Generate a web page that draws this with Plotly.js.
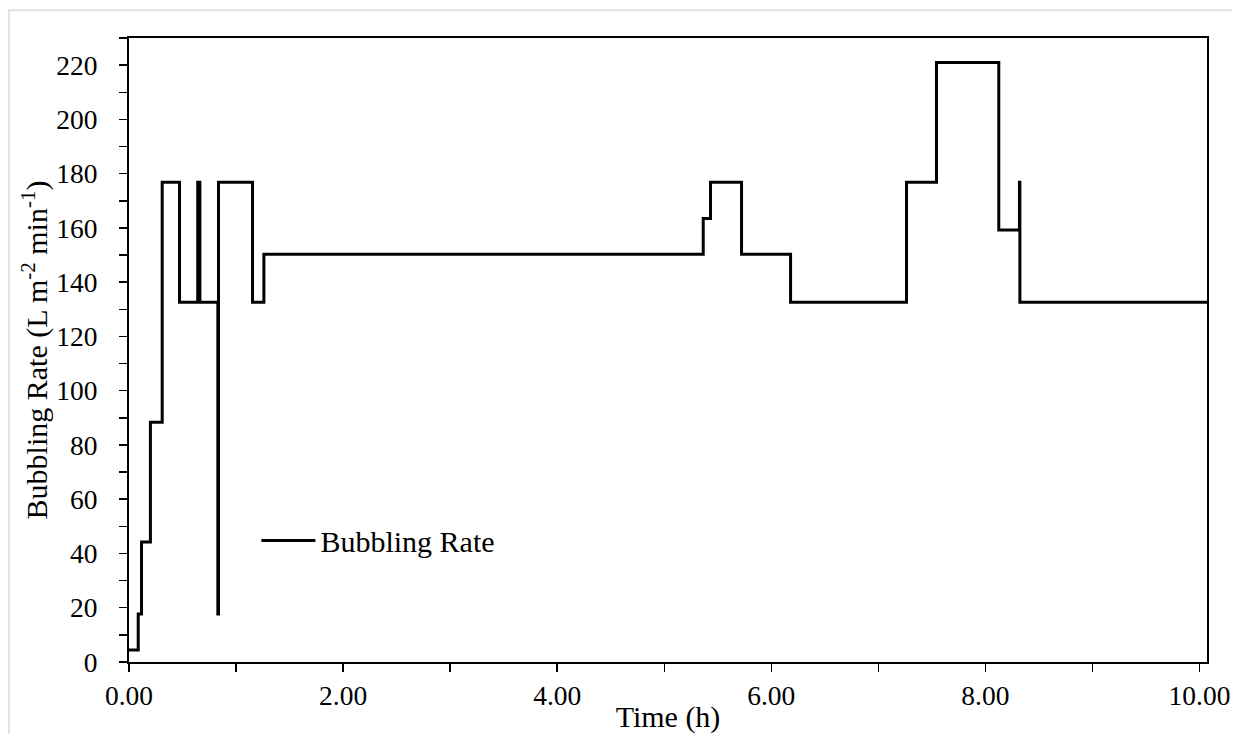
<!DOCTYPE html>
<html>
<head>
<meta charset="utf-8">
<script src="https://cdn.plot.ly/plotly-3.0.1.min.js"></script>
<style>
  html, body { margin: 0; padding: 0; background: #ffffff; }
  #chart { width: 1244px; height: 734px; }
</style>
</head>
<body>
<div id="chart"></div>
<script>
// Time (h) at which each level starts (step changes)
const timeH = [0, 0.086, 0.117, 0.20, 0.31, 0.472, 0.642, 0.662, 0.830, 0.836, 1.154, 1.26,
               5.364, 5.432, 5.722, 6.18, 7.263, 7.543, 8.125, 8.318, 8.322, 10.07];
// Bubbling rate (L m-2 min-1) held from that time on
const bubblingRate = [4.4, 17.7, 44.2, 88.4, 176.8, 132.6, 176.8, 132.6, 17.7, 176.8, 132.6, 150.3,
                      163.5, 176.8, 150.3, 132.6, 176.8, 221.0, 159.2, 176.8, 132.6, 132.6];
const seriesName = "Bubbling Rate";
const xTickVals = [0, 2, 4, 6, 8, 10];
const yTickVals = [0, 20, 40, 60, 80, 100, 120, 140, 160, 180, 200, 220];

const FONT = "Liberation Serif, Times New Roman, serif";
const TICK_SIZE = 27.5, TITLE_SIZE = 30;
const L = 128.5, R = 1244 - 1207.3, T = 38.3, B = 734 - 662.5;
const plotW = 1244 - L - R, plotH = 734 - T - B;
const px2x = p => (p - L) / plotW;
const px2y = p => (734 - B - p) / plotH;

const trace = {
  x: timeH,
  y: bubblingRate,
  type: "scatter",
  mode: "lines",
  name: seriesName,
  line: { shape: "hv", color: "#000000", width: 3 },
  hoverinfo: "x+y"
};

const layout = {
  width: 1244,
  height: 734,
  margin: { l: L, r: R, t: T, b: B, pad: 0 },
  paper_bgcolor: "#ffffff",
  plot_bgcolor: "#ffffff",
  font: { family: FONT, size: TICK_SIZE, color: "#000000" },
  showlegend: true,
  legend: {
    x: px2x(256), y: px2y(541), xanchor: "left", yanchor: "middle",
    itemwidth: 54,
    bgcolor: "rgba(0,0,0,0)", borderwidth: 0,
    font: { family: FONT, size: TITLE_SIZE, color: "#000000" }
  },
  xaxis: {
    range: [0, 10.07],
    tickvals: xTickVals,
    tickformat: ".2f",
    ticks: "outside", ticklen: 8, tickwidth: 1.5, tickcolor: "#000000",
    minor: { dtick: 1, ticks: "outside", ticklen: 8, tickwidth: 1.5, tickcolor: "#000000" },
    showline: true, linecolor: "#000000", linewidth: 2, mirror: true,
    showgrid: false, zeroline: false,
    tickfont: { family: FONT, size: TICK_SIZE, color: "#000000" },
    title: { text: "Time (h)", font: { family: FONT, size: TITLE_SIZE, color: "#000000" }, standoff: 0 },
    automargin: false
  },
  yaxis: {
    range: [0, 230],
    tickvals: yTickVals,
    ticks: "outside", ticklen: 8, tickwidth: 1.5, tickcolor: "#000000",
    ticklabelstandoff: 16,
    minor: { dtick: 10, ticks: "outside", ticklen: 8, tickwidth: 1.5, tickcolor: "#000000" },
    showline: true, linecolor: "#000000", linewidth: 2, mirror: true,
    showgrid: false, zeroline: false,
    tickfont: { family: FONT, size: TICK_SIZE, color: "#000000" },
    title: { text: "Bubbling Rate (L m<sup>-2</sup> min<sup>-1</sup>)", font: { family: FONT, size: TITLE_SIZE, color: "#000000" } },
    automargin: false
  },
  shapes: [
    { type: "line", xref: "paper", yref: "paper", x0: px2x(8), x1: px2x(1232), y0: px2y(10.5), y1: px2y(10.5),
      line: { color: "#d9d9d9", width: 1.5 } },
    { type: "line", xref: "paper", yref: "paper", x0: px2x(8.5), x1: px2x(8.5), y0: px2y(10), y1: px2y(740),
      line: { color: "#d9d9d9", width: 1.5 } }
  ]
};

Plotly.newPlot("chart", [trace], layout, { staticPlot: true, displayModeBar: false });
</script>
</body>
</html>
